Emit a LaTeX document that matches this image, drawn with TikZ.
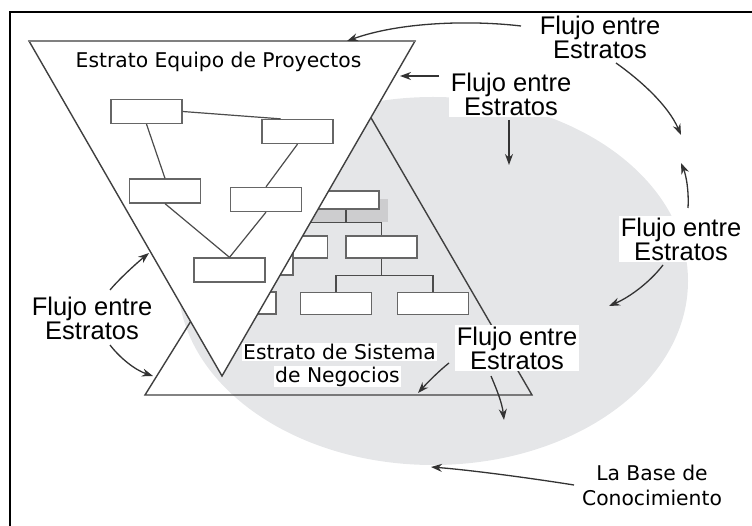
\documentclass[tikz,border=0pt]{standalone}
\usepackage{fontspec}
\newfontfamily\estfont{DejaVu Sans}
\newfontfamily\flufont{Liberation Sans}
\usetikzlibrary{arrows.meta}
\definecolor{basegray}{RGB}{229,230,232}
\definecolor{shadegray}{RGB}{205,205,207}

\begin{document}
\begin{tikzpicture}[x=1pt,y=-1pt]
    \tikzset{
        orgbox/.style={draw=black!60, line width=1.3pt, fill=white, minimum width=71pt, minimum height=24pt, inner sep=0pt},
        orgline/.style={draw=black!70, line width=1.2pt},
        flow/.style={draw=black!80, line width=1.3pt, -{Stealth[length=11pt,width=8pt]}},
        flulabel/.style={font={\flufont\fontsize{25.5}{24}\selectfont\lineskiplimit=-50pt}, align=center, fill=white, inner sep=2pt},
        estlabel/.style={font={\estfont\fontsize{20.3}{25}\selectfont}, inner sep=1pt},
    }
    \useasboundingbox (0,0) rectangle (752,526);

    % Knowledge base
    \fill[basegray] (433,281) ellipse [x radius=255, y radius=184];

    % Business system stratum
    \draw[draw=black!75, line width=1.4pt] (145,395) -- (345,73) -- (532,395) -- cycle;
    \fill[shadegray] (300,199) rectangle (388,222);
    \node[orgbox, minimum width=66pt, minimum height=18pt] (ng1) at (346,200) {};
    \node[orgbox, minimum height=22pt] (ng2) at (292,247) {};
    \node[orgbox, minimum height=22pt] (ng3) at (381.5,247) {};
    \node[orgbox, minimum height=22pt] (ng4) at (257.5,264) {};
    \node[orgbox, minimum height=22pt] (ng5) at (240.5,303) {};
    \node[orgbox, minimum height=22pt] (ng6) at (336,303.5) {};
    \node[orgbox, minimum height=22pt] (ng7) at (433,303.5) {};
    \draw[orgline] (ng1.south) -- ++(0,13) coordinate (ngj1) -| (ng3.north);
    \draw[orgline] (ngj1) -| (ng2.north);
    \draw[orgline] (ng3.south) -- ++(0,17) coordinate (ngj2) -| (ng6.north);
    \draw[orgline] (ngj2) -| (ng7.north);

    % Project team stratum
    \filldraw[fill=white, draw=black!75, line width=1.4pt] (29,41) -- (415,41) -- (222,376) -- cycle;
    \draw[black!50, line width=2.4pt] (29,41) -- (415,41);
    \node[orgbox] (pj1) at (146.5,111.5) {};
    \node[orgbox] (pj2) at (297.5,131.5) {};
    \node[orgbox] (pj3) at (165,191) {};
    \node[orgbox] (pj4) at (266,199.5) {};
    \node[orgbox] (pj5) at (229.5,270) {};
    \draw[orgline] (pj1.east) -- ([xshift=-17pt]pj2.north);
    \draw[orgline] (pj1.south) -- (pj3.north);
    \draw[orgline] (pj2.south) -- (pj4.north);
    \draw[orgline] (pj3.south) -- (pj5.north);
    \draw[orgline] (pj4.south) -- (pj5.north);

    % Labels
    \node[estlabel, anchor=base] (pjlab) at (218.5,67.5) {Estrato Equipo de Proyectos};
    \node[estlabel, anchor=base, fill=white] (nglaba) at (339.5,359.5) {Estrato de Sistema};
    \node[estlabel, anchor=base, fill=white] (nglabb) at (337.5,382) {de Negocios};
    \node[estlabel, align=center] (kblab) at (652,485) {La Base de\\Conocimiento};
    \node[flulabel, fill=none] (fl1) at (600,37) {Flujo entre\\Estratos};
    \node[flulabel] (fl2) at (511,94) {Flujo entre\\Estratos};
    \node[flulabel] (fl3) at (681,239) {Flujo entre\\Estratos};
    \node[flulabel] (fl4) at (92,318) {Flujo entre\\Estratos};
    \node[flulabel] (fl5) at (517,348) {Flujo entre\\Estratos};

    % Flow arrows
    \coordinate (s1) at (521,26);  \coordinate (t1) at (347,41);
    \coordinate (s2) at (616,63);  \coordinate (t2) at (681,135);
    \coordinate (s3) at (688,208); \coordinate (t3) at (681,163);
    \coordinate (s4) at (663,265); \coordinate (t4) at (609,306);
    \coordinate (s5) at (439,76);  \coordinate (t5) at (400,76);
    \coordinate (s6) at (509,120); \coordinate (t6) at (509,165);
    \coordinate (s7) at (110,290); \coordinate (t7) at (149,253);
    \coordinate (s8) at (110,345); \coordinate (t8) at (153,376);
    \coordinate (s9) at (449,363); \coordinate (t9) at (418,393);
    \coordinate (s10) at (491,376); \coordinate (t10) at (504,420);
    \coordinate (s11) at (574,485); \coordinate (t11) at (431,467);
    \draw[flow] (s1) .. controls (470,20) and (400,22) .. (t1);
    \draw[flow] (s2) .. controls (640,80) and (668,105) .. (t2);
    \draw[flow] (s3) .. controls (689,190) and (686,175) .. (t3);
    \draw[flow] (s4) .. controls (650,282) and (630,297) .. (t4);
    \draw[flow] (s5) -- (t5);
    \draw[flow] (s6) -- (t6);
    \draw[flow] (s7) .. controls (120,278) and (138,262) .. (t7);
    \draw[flow] (s8) .. controls (120,358) and (135,370) .. (t8);
    \draw[flow] (s9) .. controls (440,370) and (428,382) .. (t9);
    \draw[flow] (s10) .. controls (496,388) and (502,402) .. (t10);
    \draw[flow] (s11) .. controls (530,478) and (470,470) .. (t11);

    % Frame
    \draw[line width=2pt] (10,526) -- (10,12) -- (752,12);
\end{tikzpicture}
\end{document}
